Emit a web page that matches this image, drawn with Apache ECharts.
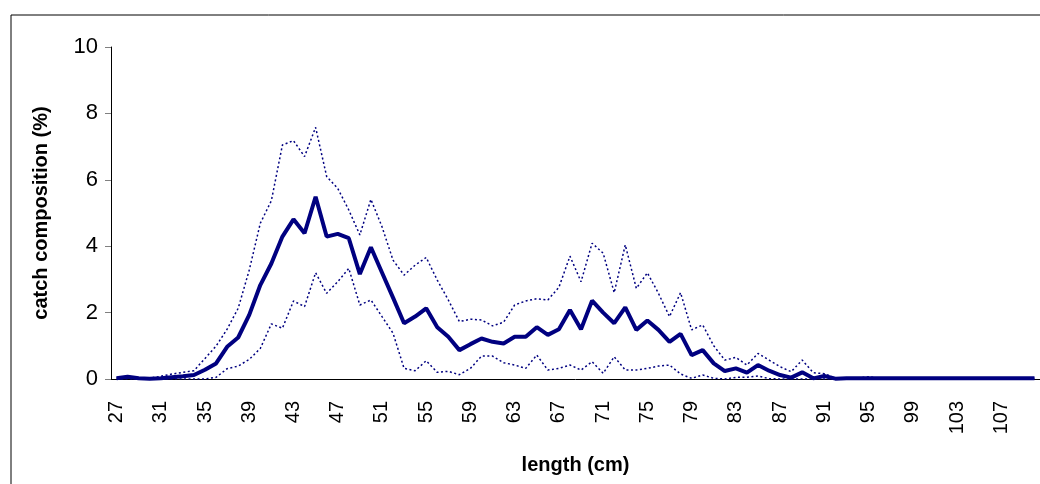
<!DOCTYPE html>
<html>
<head>
<meta charset="utf-8">
<script src="https://cdn.jsdelivr.net/npm/echarts@6/dist/echarts.min.js"></script>
<style>
  html, body { margin: 0; padding: 0; background: #fff; }
  #chart { width: 1040px; height: 484px; }
</style>
</head>
<body>
<div id="chart"></div>
<script>
// length classes 27..110 cm
let lengths = [];
for (let l = 27; l <= 110; l++) lengths.push(String(l));

// mean catch composition (%)
let meanValues = [
    0.02, 0.07, 0.02, 0.01, 0.02, 0.05, 0.08, 0.12, 0.28, 0.47,   // 27-36
    0.97, 1.25, 1.93, 2.83, 3.48, 4.29, 4.81, 4.39, 5.49, 4.29,   // 37-46
    4.37, 4.24, 3.16, 3.97, 3.21, 2.45, 1.68, 1.88, 2.13, 1.56,   // 47-56
    1.27, 0.87, 1.05, 1.22, 1.12, 1.07, 1.27, 1.27, 1.56, 1.33,   // 57-66
    1.50, 2.08, 1.50, 2.36, 2.00, 1.68, 2.16, 1.48, 1.76, 1.48,   // 67-76
    1.12, 1.36, 0.72, 0.87, 0.47, 0.24, 0.32, 0.19, 0.42, 0.25,   // 77-86
    0.12, 0.04, 0.20, 0.02, 0.09, 0.01, 0.02, 0.02, 0.02, 0.02,   // 87-96
    0.02, 0.02, 0.02, 0.02, 0.02, 0.02, 0.02, 0.02, 0.02, 0.02,   // 97-106
    0.02, 0.02, 0.02, 0.02                                         // 107-110
];

// upper bound (dotted)
let upperValues = [
    0.03, 0.08, 0.03, 0.03, 0.08, 0.15, 0.20, 0.25, 0.62, 0.99,
    1.50, 2.13, 3.28, 4.69, 5.37, 7.05, 7.18, 6.70, 7.58, 6.10,
    5.74, 5.09, 4.34, 5.41, 4.59, 3.58, 3.13, 3.43, 3.66, 2.98,
    2.38, 1.73, 1.80, 1.78, 1.60, 1.71, 2.23, 2.35, 2.42, 2.38,
    2.76, 3.70, 2.93, 4.09, 3.79, 2.60, 4.04, 2.73, 3.20, 2.58,
    1.88, 2.60, 1.48, 1.63, 1.00, 0.57, 0.65, 0.42, 0.77, 0.57,
    0.37, 0.22, 0.57, 0.19, 0.16, 0.03, 0.02, 0.02, 0.07, 0.02,
    0.03, 0.02, 0.02, 0.02, 0.02, 0.02, 0.02, 0.02, 0.02, 0.02,
    0.02, 0.02, 0.02, 0.02
];

// lower bound (dotted)
let lowerValues = [
    0, 0, 0, 0, 0, 0, 0, 0, 0, 0.05,
    0.31, 0.39, 0.59, 0.92, 1.66, 1.53, 2.35, 2.18, 3.20, 2.58,
    2.93, 3.33, 2.23, 2.38, 1.88, 1.38, 0.32, 0.25, 0.55, 0.20,
    0.23, 0.13, 0.32, 0.69, 0.69, 0.49, 0.42, 0.32, 0.72, 0.27,
    0.32, 0.42, 0.27, 0.52, 0.17, 0.67, 0.27, 0.27, 0.32, 0.39,
    0.42, 0.15, 0.02, 0.12, 0.02, 0, 0.05, 0.05, 0.09, 0.01,
    0, 0, 0, 0, 0, 0, 0, 0, 0, 0,
    0, 0, 0, 0, 0, 0, 0, 0, 0, 0,
    0, 0, 0, 0
];

let navy = '#000080';
let font = "'Liberation Sans', Arial, sans-serif";

let chart = echarts.init(document.getElementById('chart'), null, {renderer: 'canvas'});

function boundSeries(name, data) {
    return {
        name: name,
        type: 'line',
        data: data,
        showSymbol: false,
        symbol: 'none',
        lineStyle: {
            color: navy,
            width: 1.5,
            type: [2, 2.5]
        },
        z: 2
    };
}

chart.setOption({
    animation: false,
    backgroundColor: '#fff',
    graphic: [{
        type: 'rect',
        shape: {x: 11, y: 15, width: 1100, height: 520},
        style: {fill: 'none', stroke: '#000', lineWidth: 1},
        silent: true
    }],
    grid: {
        left: 111,
        top: 47,
        width: 932,
        height: 332
    },
    xAxis: {
        type: 'category',
        data: lengths,
        boundaryGap: true,
        name: 'length (cm)',
        nameLocation: 'middle',
        nameGap: 76,
        nameTextStyle: {
            fontFamily: font,
            fontSize: 20,
            fontWeight: 'bold',
            color: '#000'
        },
        axisLine: {lineStyle: {color: '#000', width: 1}},
        axisTick: {
            interval: 1,
            length: 7,
            lineStyle: {color: '#808080'}
        },
        axisLabel: {
            interval: 3,
            rotate: 90,
            margin: 22,
            fontFamily: font,
            fontSize: 20,
            color: '#000'
        },
        splitLine: {show: false}
    },
    yAxis: {
        type: 'value',
        min: 0,
        max: 10,
        interval: 2,
        name: 'catch composition (%)',
        nameLocation: 'middle',
        nameRotate: 90,
        nameGap: 60,
        nameTextStyle: {
            fontFamily: font,
            fontSize: 20,
            fontWeight: 'bold',
            color: '#000'
        },
        axisLine: {show: true, lineStyle: {color: '#000', width: 1}},
        axisTick: {show: true, length: 6, lineStyle: {color: '#808080'}},
        axisLabel: {
            margin: 13,
            fontFamily: font,
            fontSize: 22,
            color: '#000'
        },
        splitLine: {show: false}
    },
    series: [
        boundSeries('upper', upperValues),
        boundSeries('lower', lowerValues),
        {
            name: 'mean',
            type: 'line',
            data: meanValues,
            showSymbol: false,
            symbol: 'none',
            lineStyle: {color: navy, width: 4},
            z: 3
        }
    ]
});
</script>
</body>
</html>
